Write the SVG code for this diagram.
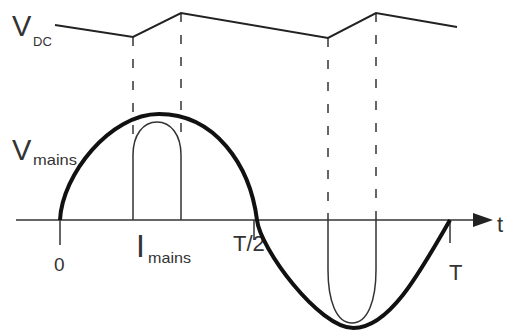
<svg xmlns="http://www.w3.org/2000/svg" width="505" height="333" viewBox="0 0 505 333">
<style>
text{font-family:"Liberation Sans",Arial,sans-serif;fill:#333}
.big{font-size:29px}
.sub{font-size:15px}
.dash{stroke:#666;stroke-width:2;stroke-dasharray:9 13;fill:none}
.thin{stroke:#333;stroke-width:1.5;fill:none}
</style>
<rect width="505" height="333" fill="#fff"/>
<g id="connectors">
<line class="dash" x1="133" y1="37" x2="133" y2="135"/>
<line class="dash" x1="181" y1="13" x2="181" y2="135"/>
<line class="dash" x1="328" y1="38" x2="328" y2="213"/>
<line class="dash" x1="376" y1="13" x2="376" y2="213"/>
</g>
<g id="vdc">
<polyline points="55,25 133,37 181,13 328,38 376,13 457,27" fill="none" stroke="#222" stroke-width="2"/>
<text class="big" x="12" y="36">V</text>
<text x="33" y="46" font-size="13">DC</text>
</g>
<g id="axis">
<line class="thin" x1="16" y1="220" x2="476" y2="220"/>
<polygon points="473,213 493,220 473,227" fill="#222"/>
<line class="thin" x1="60" y1="220" x2="60" y2="245"/>
<line class="thin" x1="254" y1="220" x2="254" y2="240"/>
<line class="thin" x1="450" y1="220" x2="450" y2="243"/>
<text x="54" y="271" font-size="19">0</text>
<text x="233" y="251" font-size="22">T/2</text>
<text x="449" y="280" font-size="22">T</text>
<text x="497" y="232" font-size="22" fill="#8a5a2a">t</text>
</g>
<g id="vmains">
<path d="M60,220 C62,175 110,114 159,114 C215,114 250,165 257,220 C260,248 318.7,328 353.5,328 C388.3,328 417.7,276.7 450,220" fill="none" stroke="#111" stroke-width="4"/>
<text class="big" x="12" y="160">V</text>
<text class="sub" x="33" y="165" textLength="44" lengthAdjust="spacingAndGlyphs">mains</text>
</g>
<g id="imains">
<path class="thin" d="M133,220 L133,155 C133,135 143,122 157,122 C171,122 181,135 181,155 L181,220"/>
<path class="thin" d="M328,213 L328,270 C328,300 336,323 352,323 C368,323 376,300 376,270 L376,213"/>
<text x="136" y="257" font-size="32">I</text>
<text class="sub" x="148" y="263" textLength="43" lengthAdjust="spacingAndGlyphs">mains</text>
</g>
</svg>
